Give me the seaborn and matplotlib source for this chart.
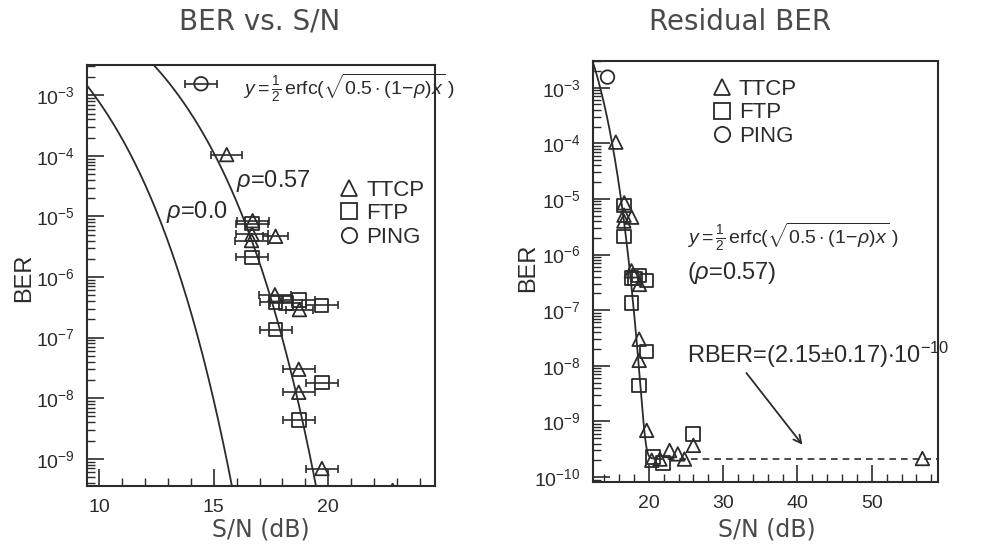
import math
import numpy as np
import pandas as pd
import matplotlib
matplotlib.use("Agg")
import matplotlib.pyplot as plt
import seaborn as sns
from matplotlib.ticker import FixedLocator, LogLocator, MultipleLocator, NullFormatter
from matplotlib.lines import Line2D

# ---------------- data ----------------
protocol = ["PING", "TTCP", "TTCP", "FTP", "TTCP", "TTCP", "TTCP", "FTP",
            "TTCP", "FTP", "FTP", "FTP", "TTCP", "FTP", "FTP",
            "TTCP", "FTP", "TTCP", "FTP", "TTCP",
            "TTCP", "FTP", "TTCP", "FTP", "TTCP", "TTCP", "TTCP", "FTP", "TTCP", "TTCP"]
snr_db = [14.45, 15.57, 16.70, 16.67, 16.67, 16.65, 17.70, 16.67,
          17.67, 17.70, 18.16, 18.71, 18.74, 19.71, 17.70,
          18.71, 19.72, 18.71, 18.71, 19.72,
          20.40, 20.60, 21.50, 21.90, 22.80, 23.90, 24.80, 25.95, 26.00, 56.80]
ber = [1.55e-3, 1.05e-4, 8.5e-6, 7.6e-6, 5.1e-6, 4.0e-6, 4.7e-6, 2.1e-6,
       5.1e-7, 3.8e-7, 3.7e-7, 4.2e-7, 2.9e-7, 3.4e-7, 1.35e-7,
       3.0e-8, 1.8e-8, 1.25e-8, 4.4e-9, 6.9e-10,
       2.0e-10, 2.3e-10, 2.1e-10, 1.8e-10, 3.0e-10, 2.6e-10, 2.1e-10, 5.9e-10, 3.7e-10, 2.15e-10]
snr_err = [0.7, 0.68, 0.7, 0.7, 0.7, 0.7, 0.55, 0.7,
           0.7, 0.7, 0.7, 0.7, 0.6, 0.7, 0.7,
           0.7, 0.7, 0.7, 0.7, 0.7,
           0, 0, 0, 0, 0, 0, 0, 0, 0, 0]

rho_values = [0.0, 0.57]
rber = 2.15e-10

yticks_left = [1e-3, 1e-4, 1e-5, 1e-6, 1e-7, 1e-8, 1e-9]
yticks_right = [1e-3, 1e-4, 1e-5, 1e-6, 1e-7, 1e-8, 1e-9, 1e-10]
exp_labels_left = ["-3", "-4", "-5", "-6", "-7", "-8", "-9"]
exp_labels_right = ["-3", "-4", "-5", "-6", "-7", "-8", "-9", "-10"]

df = pd.DataFrame({"proto": protocol, "snr": snr_db, "ber": ber, "err": snr_err})


def theory(db, rho):
    x = 10 ** (np.asarray(db) / 10.0)
    return np.array([0.5 * math.erfc(math.sqrt(0.5 * (1 - rho) * v)) for v in x])


# ---------------- style ----------------
ink = "#2b2b2b"
sns.set_style("white")
plt.rcParams["font.family"] = ["Liberation Sans", "DejaVu Sans"]
plt.rcParams["mathtext.fontset"] = "custom"
plt.rcParams["mathtext.rm"] = "Liberation Sans"
plt.rcParams["mathtext.it"] = "Liberation Sans:italic"
plt.rcParams["mathtext.sf"] = "Liberation Sans"

fig = plt.figure(figsize=(9.86, 5.54), dpi=100)
W, H = 986.0, 554.0
axL = fig.add_axes([87 / W, 1 - 486 / H, 348 / W, 421 / H])
axR = fig.add_axes([593 / W, 1 - 482 / H, 345 / W, 421 / H])

markers = {"TTCP": "^", "FTP": "s", "PING": "o"}


def style_axes(ax, yt, labels, ylim, xlim):
    ax.set_yscale("log")
    ax.set_ylim(*ylim)
    ax.set_xlim(*xlim)
    ax.yaxis.set_major_locator(FixedLocator(yt))
    ax.set_yticklabels([r"$\mathregular{10^{%s}}$" % e for e in labels])
    ax.yaxis.set_minor_locator(LogLocator(base=10, subs=np.arange(2, 10)))
    ax.yaxis.set_minor_formatter(NullFormatter())
    ax.tick_params(axis="both", which="major", direction="in", length=12, width=1.2,
                   color=ink, labelsize=14, labelcolor=ink, pad=9,
                   left=True, bottom=True, right=False, top=False)
    ax.tick_params(axis="both", which="minor", direction="in", length=6, width=1.0,
                   color=ink, left=True, bottom=True, right=False, top=False)
    for s in ax.spines.values():
        s.set_color(ink)
        s.set_linewidth(1.5)
    ax.set_xlabel("")
    ax.set_ylabel("")


def draw_points(ax, data):
    sns.scatterplot(data=data, x="snr", y="ber", style="proto", markers=markers,
                    s=95, color=ink, edgecolor=ink, linewidth=1.3, legend=False, ax=ax,
                    zorder=4)
    for coll in ax.collections:
        coll.set_facecolor("none")
        coll.set_edgecolor(ink)


def add_legend(ax, x, y):
    handles = [Line2D([], [], ls="none", marker=markers[k], mfc="none", mec=ink,
                      mew=1.3, ms=11) for k in ["TTCP", "FTP", "PING"]]
    ax.legend(handles, ["TTCP", "FTP", "PING"], loc="upper left", bbox_to_anchor=(x, y),
              frameon=False, fontsize=16, handlelength=1.0, handletextpad=0.25,
              labelspacing=0.12, borderpad=0, borderaxespad=0, labelcolor=ink)


formula = r"$y=\frac{1}{2}\,\mathrm{erfc}(\sqrt{0.5\cdot(1\!-\!\rho)x}\;)$"

# ---------------- left panel ----------------
axL.set_yscale("log")
xs_left = np.linspace(9.5, 24.7, 400)
for rho in rho_values:
    sns.lineplot(x=xs_left, y=theory(xs_left, rho), color=ink, lw=1.3, ax=axL,
                 estimator=None, sort=True)
left_df = df[df["err"] > 0]
axL.errorbar(left_df["snr"], left_df["ber"], xerr=left_df["err"], fmt="none",
             ecolor=ink, elinewidth=1.2, capsize=3, capthick=1.2, zorder=3)
draw_points(axL, df)
style_axes(axL, yticks_left, exp_labels_left, (10 ** -9.45, 10 ** -2.5), (9.48, 24.65))
axL.xaxis.set_major_locator(FixedLocator([10, 15, 20]))
axL.xaxis.set_minor_locator(MultipleLocator(1))
add_legend(axL, 0.722, 0.728)
axL.text(16.26, 10 ** -2.88, formula, fontsize=14, color=ink, ha="left", va="center",
         clip_on=False)
axL.text(15.96, 10 ** -4.42, r"$\rho$=0.57", fontsize=17, color=ink, ha="left", va="center")
axL.text(12.91, 10 ** -4.93, r"$\rho$=0.0", fontsize=17, color=ink, ha="left", va="center")

# ---------------- right panel ----------------
axR.set_yscale("log")
xs_right = np.linspace(12.5, 21.0, 300)
sns.lineplot(x=xs_right, y=theory(xs_right, rho_values[1]) + rber, color=ink, lw=1.3,
             ax=axR, estimator=None, sort=True)
xs_flat = np.array([21.0, 59.0])
sns.lineplot(x=xs_flat, y=np.full(2, rber), color=ink, lw=1.2, ax=axR,
             estimator=None, dashes=False, linestyle=(0, (4, 3)))
draw_points(axR, df)
style_axes(axR, yticks_right, exp_labels_right, (10 ** -10.09, 10 ** -2.52), (12.5, 58.9))
axR.xaxis.set_major_locator(FixedLocator([20, 30, 40, 50]))
axR.xaxis.set_minor_locator(MultipleLocator(2))
add_legend(axR, 0.342, 0.958)
axR.text(25.1, 10 ** -5.68, formula, fontsize=14, color=ink, ha="left", va="center")
axR.text(25.1, 10 ** -6.34, r"($\rho$=0.57)", fontsize=17, color=ink, ha="left", va="center")
axR.text(25.1, 10 ** -7.80, r"RBER=(2.15$\pm$0.17)$\cdot$10$^{-10}$", fontsize=17,
         color=ink, ha="left", va="center", clip_on=False)
axR.annotate("", xy=(40.9, 10 ** -9.46), xytext=(32.9, 10 ** -8.09),
             arrowprops=dict(arrowstyle="->", color=ink, lw=1.3, mutation_scale=14))

# ---------------- titles & axis labels ----------------
tfont = dict(family="DejaVu Sans", color="#4a4a4a")
fig.text(259.5 / W, 1 - 22 / H, "BER vs. S/N", fontsize=20, ha="center", va="center", **tfont)
fig.text(740 / W, 1 - 22 / H, "Residual BER", fontsize=20, ha="center", va="center", **tfont)
fig.text(261 / W, 1 - 530 / H, "S/N (dB)", fontsize=17, ha="center", va="center", **tfont)
fig.text(767 / W, 1 - 530 / H, "S/N (dB)", fontsize=17, ha="center", va="center", **tfont)
fig.text(24 / W, 1 - 278 / H, "BER", fontsize=17, rotation=90, ha="center", va="center", color=ink)
fig.text(528 / W, 1 - 268 / H, "BER", fontsize=17, rotation=90, ha="center", va="center", color=ink)

fig.savefig("out.png", dpi=100, facecolor="white")
